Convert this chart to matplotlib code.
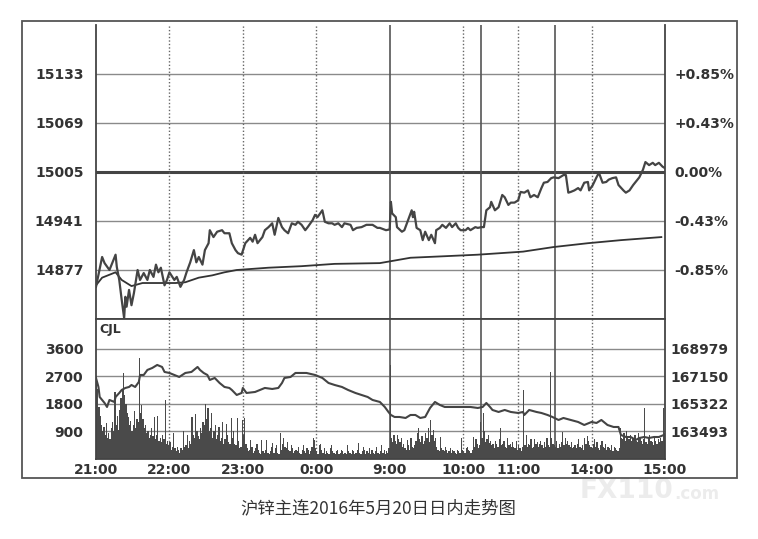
import matplotlib
matplotlib.use("Agg")
import matplotlib.pyplot as plt
from matplotlib.patches import Rectangle

plt.rcParams['font.family'] = ['DejaVu Sans', 'Noto Sans CJK SC']

# ─────────────────────────────────────────────────────────────────────────────
# Data (x = trading minute since 21:00; sessions 21:00-1:00, 9:00-10:15,
# 10:30-11:30, 13:30-15:00 -> 465 minutes)
# ─────────────────────────────────────────────────────────────────────────────

TIME_TICKS = [0, 60, 120, 180, 240, 300, 345, 405, 465]
TIME_LABELS = ["21:00", "22:00", "23:00", "0:00", "9:00", "10:00", "11:00", "14:00", "15:00"]
SESSION_BREAKS = [240, 315, 375]
HOUR_LINES = [60, 120, 180, 300, 345, 405]

PREV_SETTLE = 15005
PRICE_TICKS = [14877, 14941, 15005, 15069, 15133]
PCT_LABELS = ["-0.85%", "-0.43%", "0.00%", "+0.43%", "+0.85%"]
PRICE_LIM = (14813, 15197)

VOL_TICKS = [900, 1800, 2700, 3600]
OI_TICKS = [163493, 165322, 167150, 168979]
VOL_LIM = (0, 4580)
OI_LIM = (161665, 170971)

price_min = [0, 5, 7, 11, 16, 17, 19, 21, 23, 24,
             25, 27, 29, 31, 32, 34, 36, 39, 42, 44,
             47, 49, 51, 53, 56, 58, 60, 64, 66, 69,
             72, 74, 77, 80, 82, 84, 87, 89, 92, 93,
             96, 99, 103, 105, 109, 111, 114, 116, 119, 122,
             126, 128, 130, 132, 136, 138, 141, 144, 146, 149,
             152, 154, 157, 160, 163, 165, 168, 171, 173, 177,
             179, 181, 185, 187, 190, 193, 195, 198, 201, 203,
             208, 210, 213, 217, 221, 226, 230, 232, 237, 240,
             241, 242, 245, 246, 250, 252, 255, 258, 259, 260,
             262, 265, 267, 269, 272, 274, 277, 278, 281, 283,
             286, 289, 291, 294, 296, 298, 302, 304, 306, 310,
             312, 315, 317, 319, 322, 323, 326, 329, 332, 334,
             337, 339, 342, 345, 347, 350, 353, 355, 358, 361,
             364, 366, 369, 372, 374, 378, 382, 384, 386, 388,
             391, 394, 396, 399, 402, 403, 406, 409, 411, 414,
             417, 419, 422, 425, 427, 431, 433, 436, 439, 441,
             444, 447, 449, 452, 455, 457, 460, 463, 465]

price = [14855, 14894, 14886, 14877, 14897, 14881, 14864, 14838, 14814, 14842,
         14829, 14851, 14831, 14847, 14857, 14877, 14864, 14873, 14864, 14877,
         14868, 14884, 14874, 14880, 14857, 14864, 14874, 14864, 14868, 14855,
         14864, 14874, 14887, 14903, 14887, 14894, 14884, 14903, 14912, 14929,
         14920, 14927, 14929, 14925, 14925, 14912, 14903, 14899, 14897, 14912,
         14919, 14914, 14923, 14912, 14920, 14929, 14933, 14938, 14923, 14945,
         14933, 14929, 14925, 14938, 14936, 14940, 14936, 14929, 14933, 14942,
         14949, 14946, 14955, 14940, 14938, 14938, 14936, 14938, 14933, 14938,
         14936, 14929, 14932, 14933, 14936, 14936, 14932, 14932, 14929, 14930,
         14966, 14951, 14946, 14933, 14927, 14929, 14942, 14955, 14946, 14953,
         14932, 14929, 14916, 14927, 14916, 14923, 14912, 14929, 14932, 14936,
         14932, 14938, 14933, 14938, 14932, 14929, 14929, 14932, 14929, 14933,
         14932, 14933, 14933, 14955, 14959, 14966, 14955, 14959, 14975, 14972,
         14962, 14965, 14965, 14968, 14979, 14978, 14981, 14972, 14975, 14972,
         14984, 14991, 14992, 14997, 14998, 14997, 15001, 15001, 14978, 14979,
         14981, 14984, 14981, 14991, 14992, 14981, 14988, 14998, 15004, 14991,
         14992, 14995, 14997, 14998, 14988, 14981, 14978, 14981, 14988, 14992,
         14998, 15008, 15018, 15014, 15017, 15014, 15017, 15012, 15010]

avg_min = [0, 5, 16, 21, 29, 38, 51, 65, 73, 84, 95, 105, 115,
           141, 168, 195, 232, 257, 285, 312, 349, 374, 402, 429, 462]
avg_price = [14857, 14867, 14874, 14864, 14856, 14860, 14860, 14860, 14861, 14867, 14870, 14874, 14877,
             14880, 14882, 14885, 14886, 14893, 14895, 14897, 14901, 14907, 14912, 14916, 14920]

# volume per minute (CJL)
volume = [2650, 2300, 1700, 1400, 1100, 900, 1050, 800, 1180, 700,
          850, 650, 1000, 1200, 900, 2190, 1100, 1400, 950, 1600,
          2000, 2300, 2800, 2100, 1800, 1500, 1370, 1100, 1250, 900,
          1100, 1570, 1000, 1300, 1200, 3300, 1500, 1770, 1300, 1000,
          1100, 850, 900, 700, 800, 1000, 750, 1370, 650, 800,
          1400, 600, 700, 550, 800, 650, 1930, 500, 600, 450,
          550, 300, 400, 850, 350, 250, 400, 300, 200, 350,
          300, 930, 400, 450, 800, 350, 600, 500, 1370, 800,
          700, 1470, 900, 750, 650, 1000, 850, 1200, 1100, 1800,
          1300, 1670, 900, 1000, 1500, 700, 900, 1100, 650, 800,
          1050, 600, 700, 1200, 500, 650, 1150, 800, 550, 500,
          1340, 700, 900, 500, 450, 1340, 600, 350, 400, 1280,
          800, 1340, 500, 350, 250, 300, 620, 400, 200, 250,
          350, 480, 300, 200, 150, 620, 250, 180, 300, 620,
          200, 150, 250, 400, 520, 180, 350, 450, 200, 150,
          850, 300, 500, 690, 400, 350, 550, 300, 250, 450,
          350, 200, 250, 300, 250, 400, 200, 150, 300, 450,
          250, 200, 350, 300, 150, 250, 400, 690, 620, 350,
          250, 150, 450, 500, 300, 200, 350, 150, 250, 200,
          150, 350, 460, 250, 200, 150, 250, 300, 150, 200,
          300, 250, 150, 200, 150, 460, 250, 200, 150, 300,
          250, 150, 200, 300, 520, 200, 150, 250, 400, 300,
          150, 250, 200, 350, 150, 300, 200, 150, 250, 400,
          200, 150, 250, 460, 200, 300, 150, 250, 200, 350,
          3080, 700, 550, 790, 600, 500, 790, 650, 550, 700,
          400, 500, 350, 300, 620, 450, 300, 690, 400, 350,
          450, 600, 850, 1010, 650, 550, 750, 500, 600, 850,
          700, 1010, 550, 1280, 800, 950, 600, 700, 400, 300,
          250, 720, 350, 300, 250, 400, 300, 200, 250, 350,
          200, 300, 250, 200, 150, 300, 250, 200, 690, 300,
          250, 200, 350, 400, 300, 250, 200, 300, 720, 400,
          650, 500, 350, 450, 1210, 700, 1500, 900, 550, 650,
          800, 520, 600, 450, 500, 350, 600, 500, 400, 650,
          1010, 450, 500, 600, 400, 350, 700, 450, 500, 400,
          550, 400, 350, 600, 300, 450, 350, 250, 400, 2260,
          450, 790, 400, 500, 450, 650, 350, 400, 650, 500,
          550, 400, 500, 600, 450, 350, 550, 400, 690, 450,
          400, 2850, 690, 500, 450, 400, 600, 350, 500, 400,
          550, 880, 450, 700, 500, 600, 450, 400, 550, 350,
          400, 450, 350, 500, 650, 400, 350, 450, 300, 690,
          500, 750, 600, 450, 400, 350, 500, 650, 400, 550,
          350, 300, 450, 600, 400, 350, 500, 300, 400, 350,
          300, 450, 250, 400, 350, 300, 250, 350, 1010, 700,
          650, 850, 600, 900, 750, 650, 800, 600, 700, 650,
          800, 600, 550, 850, 700, 600, 500, 650, 1670, 550,
          500, 700, 800, 600, 550, 450, 700, 600, 500, 650,
          550, 700, 600, 1670, 850]

# open interest (right axis of volume panel)
oi_min = [0, 2, 3, 7, 9, 11, 15, 16, 19, 21,
          24, 27, 29, 32, 35, 36, 39, 42, 46, 50,
          54, 56, 60, 64, 68, 73, 78, 83, 85, 88,
          91, 93, 97, 101, 105, 109, 111, 115, 119, 120,
          123, 130, 138, 144, 149, 152, 154, 159, 163, 168,
          172, 179, 185, 190, 195, 201, 206, 212, 217, 222,
          226, 232, 236, 239, 241, 244, 248, 253, 257, 261,
          265, 269, 273, 277, 281, 285, 290, 296, 302, 306,
          312, 316, 319, 322, 324, 329, 334, 339, 345, 349,
          350, 354, 360, 364, 369, 373, 378, 382, 388, 394,
          399, 405, 409, 413, 418, 423, 427, 429, 433, 437,
          441, 444, 448, 452, 456, 460, 464]

open_interest = [167052, 166453, 165788, 165389, 165123, 165589, 165456, 165788, 166054, 166254,
                 166387, 166453, 166586, 166453, 166786, 167251, 167251, 167584, 167717, 167916,
                 167783, 167451, 167384, 167251, 167118, 167384, 167451, 167783, 167584, 167384,
                 167251, 166919, 167052, 166719, 166453, 166387, 166254, 165921, 166054, 166387,
                 166054, 166121, 166387, 166320, 166387, 166719, 167052, 167118, 167384, 167384,
                 167384, 167251, 167052, 166719, 166586, 166453, 166254, 166054, 165921, 165788,
                 165589, 165456, 165123, 164791, 164591, 164458, 164458, 164392, 164591, 164591,
                 164392, 164458, 165057, 165456, 165256, 165123, 165123, 165123, 165123, 165123,
                 165057, 165123, 165389, 165123, 164924, 164791, 164924, 164791, 164724, 164791,
                 164591, 164924, 164791, 164724, 164591, 164458, 164259, 164392, 164259, 164126,
                 163926, 164126, 164059, 164259, 163926, 163793, 163793, 163261, 163128, 163128,
                 162929, 163062, 163128, 163062, 163128, 163128, 163261]

CAPTION = "沪锌主连2016年5月20日日内走势图"

# ─────────────────────────────────────────────────────────────────────────────
# Plotting
# ─────────────────────────────────────────────────────────────────────────────

W, H = 758, 539
GRID = '#8a8a8a'
TICK_FONT = dict(fontsize=10, fontweight='bold', color='#333333')

fig = plt.figure(figsize=(W / 100, H / 100), dpi=100)
fig.patch.set_facecolor('white')

# outer frame
fig.patches.append(Rectangle((22 / W, 1 - 478 / H), (737 - 22) / W, (478 - 21) / H,
                             transform=fig.transFigure, fill=False, lw=1.3, ec='#555555'))

# faint watermark, sits below the time labels
fig.text(580 / W, 1 - 491 / H, "FX110", fontsize=19, fontweight='bold',
         color='#ececec', ha='left', va='center', zorder=0)
fig.text(674 / W, 1 - 494 / H, ".com", fontsize=12, fontweight='bold',
         color='#ececec', ha='left', va='center', zorder=0)

ax_p = fig.add_axes([96 / W, 1 - 319 / H, 569 / W, 294 / H])
ax_v = fig.add_axes([96 / W, 1 - 459 / H, 569 / W, 140 / H])


def draw_verticals(ax):
    for m in SESSION_BREAKS:
        ax.axvline(m, color='#555555', lw=1.2, zorder=1)
    for m in HOUR_LINES:
        ax.axvline(m, color='#666666', lw=1.0, ls=(0, (1, 1.5)), zorder=1)


def style_spines(ax, top=True):
    for sp in ax.spines.values():
        sp.set_color('#444444')
        sp.set_linewidth(1.3)
    ax.spines['top'].set_visible(top)


# ── price panel ─────────────────────────────────────────────────────────
for t in PRICE_TICKS:
    if t == PREV_SETTLE:
        ax_p.axhline(t, color='#444444', lw=2.2, zorder=1)
    else:
        ax_p.axhline(t, color=GRID, lw=1.0, zorder=1)
draw_verticals(ax_p)
ax_p.plot(avg_min, avg_price, color='#333333', lw=1.3, zorder=3)
ax_p.plot(price_min, price, color='#444444', lw=1.6, zorder=4)

ax_p.set_xlim(0, 465)
ax_p.set_ylim(*PRICE_LIM)
ax_p.set_xticks([])
ax_p.set_yticks(PRICE_TICKS)
ax_p.set_yticklabels([str(t) for t in PRICE_TICKS], **TICK_FONT)
ax_p.tick_params(axis='y', length=0, pad=9)
style_spines(ax_p, top=False)

ax_p2 = ax_p.twinx()
ax_p2.set_ylim(*PRICE_LIM)
ax_p2.set_yticks(PRICE_TICKS)
ax_p2.set_yticklabels(PCT_LABELS, **TICK_FONT)
ax_p2.tick_params(axis='y', length=0, pad=7)
for sp in ax_p2.spines.values():
    sp.set_visible(False)

# ── volume panel ────────────────────────────────────────────────────────
for t in VOL_TICKS:
    ax_v.axhline(t, color=GRID, lw=1.0, zorder=1)
draw_verticals(ax_v)
ax_v.bar(range(len(volume)), volume, width=1.0, align='edge',
         color='#4a4a4a', lw=0, zorder=2)

ax_v.set_xlim(0, 465)
ax_v.set_ylim(*VOL_LIM)
ax_v.set_yticks(VOL_TICKS)
ax_v.set_yticklabels([str(t) for t in VOL_TICKS], **TICK_FONT)
ax_v.set_xticks(TIME_TICKS)
ax_v.set_xticklabels(TIME_LABELS, **TICK_FONT)
ax_v.tick_params(axis='y', length=0, pad=9)
ax_v.tick_params(axis='x', length=0, pad=3)
style_spines(ax_v)
ax_v.text(0.006, 0.975, "CJL", transform=ax_v.transAxes, ha='left', va='top',
          fontsize=9, fontweight='bold', color='#333333')

ax_v2 = ax_v.twinx()
ax_v2.plot(oi_min, open_interest, color='#444444', lw=1.5, zorder=4)
ax_v2.set_ylim(*OI_LIM)
ax_v2.set_yticks(OI_TICKS)
ax_v2.set_yticklabels([str(t) for t in OI_TICKS], **TICK_FONT)
ax_v2.tick_params(axis='y', length=0, pad=4)
for sp in ax_v2.spines.values():
    sp.set_visible(False)

# caption
fig.text(378 / W, 1 - 508 / H, CAPTION, ha='center', va='center', fontsize=12.5,
         family=['Noto Sans CJK SC', 'DejaVu Sans'], color='#333333')

fig.savefig("out.png", dpi=100)
